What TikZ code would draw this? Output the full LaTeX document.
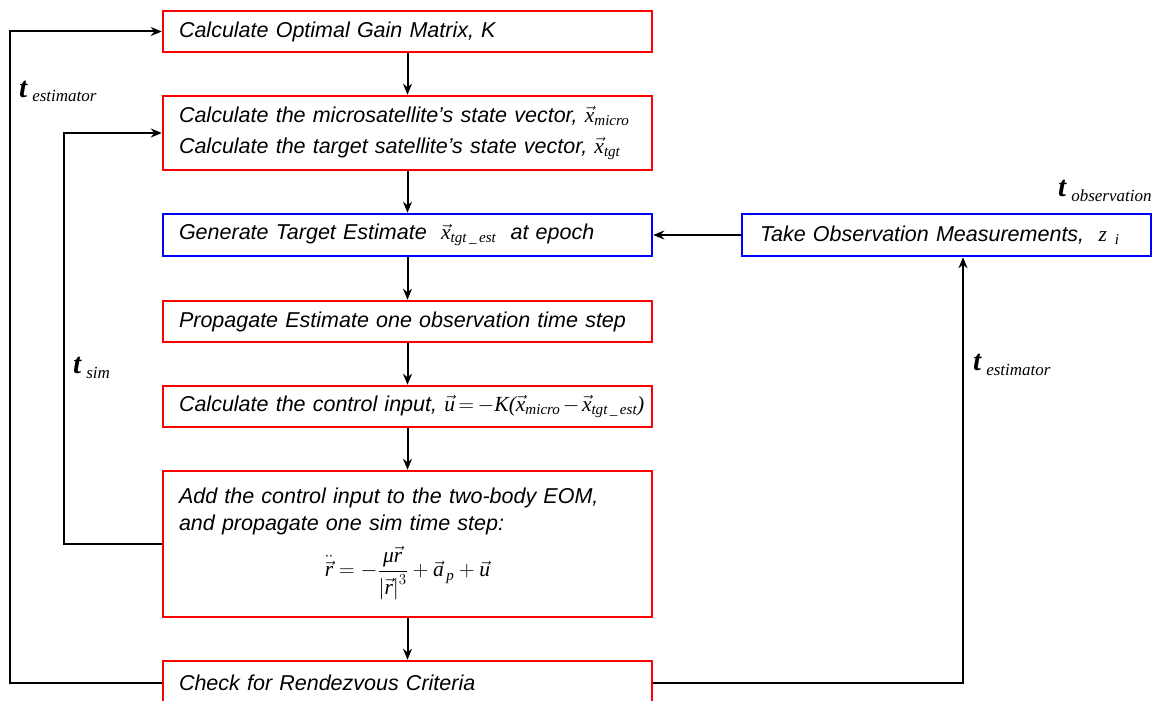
\RequirePackage{fix-cm}
\documentclass[tikz,border=0pt]{standalone}
\usepackage{amsmath}
\usepackage{fontspec}
\setmainfont{Liberation Sans}
\newfontfamily\tnr{Liberation Serif}
\usepackage{tikz}
\usetikzlibrary{arrows.meta}

\newcommand{\mi}[1]{\text{\tnr\itshape #1}}
\newcommand{\mv}[1]{\vec{\text{\tnr\itshape #1}}}
\newcommand{\tlab}[1]{{\tnr\itshape{\bfseries\fontsize{29}{29}\selectfont t}\hspace{5pt}\raisebox{-5pt}{\fontsize{17}{17}\selectfont #1}}}

\begin{document}
\begin{tikzpicture}[x=1pt,y=-1pt,>={Stealth[length=11pt,width=9pt]},
  font=\itshape\fontsize{21.5}{27}\selectfont,
  redbox/.style={draw=red,line width=2.5pt,inner xsep=16pt,inner ysep=0pt,text width=457pt,align=left},
  bluebox/.style={redbox,draw=blue},
  flow/.style={->,line width=2pt},
  tlabel/.style={anchor=base west,inner sep=0pt}]
\useasboundingbox (0,0) rectangle (1152,701);
\node[redbox,minimum height=41pt] (gain) at (407.5,31.5) {Calculate Optimal Gain Matrix, \textit{K}};
\node[redbox,minimum height=74pt] (state) at (407.5,133) {\mbox{Calculate the microsatellite’s state vector, $\mv{x}_{\mi{micro}}$}\\[4pt]
  \mbox{Calculate the target satellite’s state vector, $\mv{x}_{\mi{tgt}}$}};
\node[bluebox,minimum height=42pt] (estim) at (407.5,235) {Generate Target Estimate \ $\mv{x}_{\mi{tgt\,\_\,est}}$ \ at epoch};
\node[redbox,minimum height=41pt] (prop) at (407.5,321.5) {\mbox{Propagate Estimate one observation time step}};
\node[redbox,minimum height=41pt] (ctrl) at (407.5,406.5) {\medmuskip=2mu\thickmuskip=3mu
  \mbox{Calculate the control input, $\mv{u}=-\mi{K}\mi{(}\mv{x}_{\mi{micro}}-\mv{x}_{\mi{tgt\,\_\,est}}\mi{)}$}};
\node[redbox,minimum height=146pt] (eom) at (407.5,544) {Add the control input to the two-body EOM,\\ and propagate one sim time step:\par\vspace{10pt}
  \centerline{$\displaystyle\ddot{\mv{r}}=-\frac{\mi{μ}\mv{r}}{\left|\mv{r}\right|^{3}}+\mv{a}_{\,\mi{p}}+\mv{u}$}};
\node[redbox,minimum height=44pt] (check) at (407.5,683) {Check for Rendezvous Criteria};
\node[bluebox,inner xsep=18pt,text width=373pt,minimum height=42pt] (obs) at (946.5,235) {Take Observation Measurements, \ $\mi{z}_{\hspace{8pt}\mi{i}}$};
% loop corners
\coordinate (lx) at (10,0);
\coordinate (sx) at (64,0);
\coordinate (rx) at (963,0);
\draw[flow] (gain) -- (state);
\draw[flow] (state) -- (estim);
\draw[flow] (estim) -- (prop);
\draw[flow] (prop) -- (ctrl);
\draw[flow] (ctrl) -- (eom);
\draw[flow] (eom) -- (check);
\draw[flow] (obs) -- (estim);
\draw[flow] (check.west) -- (check.west -| lx) |- (gain.west);
\draw[flow] (eom.west) -- (eom.west -| sx) |- (state.west);
\draw[flow] (check.east) -- (check.east -| rx) -- (rx |- obs.south);
\node[tlabel] (test) at (19,97) {\tlab{estimator}};
\node[tlabel] (tsim) at (73,373) {\tlab{sim}};
\node[tlabel] (test2) at (973,370) {\tlab{estimator}};
\node[tlabel] (tobs) at (1058,196) {\tlab{observation}};
\end{tikzpicture}
\end{document}
